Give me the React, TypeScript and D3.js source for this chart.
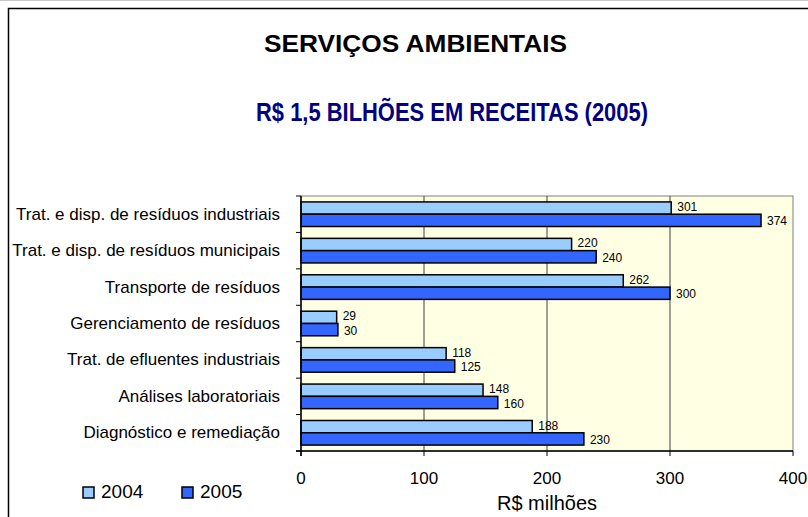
import React from "react";
import * as d3 from "d3";

const categories = [
  "Trat. e disp. de resíduos industriais",
  "Trat. e disp. de resíduos municipais",
  "Transporte de resíduos",
  "Gerenciamento de resíduos",
  "Trat. de efluentes industriais",
  "Análises laboratoriais",
  "Diagnóstico e remediação",
];
const values2004 = [301, 220, 262, 29, 118, 148, 188];
const values2005 = [374, 240, 300, 30, 125, 160, 230];
const seriesNames = ["2004", "2005"];
const seriesColors = ["#99CCFF", "#3366FF"];
const xTicks = [0, 100, 200, 300, 400];

const W = 808, H = 517;
const font = "Arial, 'Liberation Sans', sans-serif";

export default function App() {
  const left = 301, right = 793, top = 196, bottom = 451;

  const x = d3.scaleLinear().domain([0, 400]).range([left, right]);
  const y = d3
    .scaleBand<string>()
    .domain(categories)
    .range([top, bottom])
    .paddingInner(0.325)
    .paddingOuter(0.1625);
  const ySub = d3
    .scaleBand<string>()
    .domain(seriesNames)
    .range([0, y.bandwidth()]);

  const series = [values2004, values2005];
  const step = y.step();

  return (
    <svg
      width={W}
      height={H}
      style={{ position: "absolute", left: 0, top: 0 }}
      fontFamily={font}
    >
      <rect x={0} y={0} width={W} height={H} fill="#fff" />
      <line x1={0} x2={W} y1={0.5} y2={0.5} stroke="#c8c8c8" />
      <rect x={8.5} y={8.5} width={W + 10} height={H + 10} fill="none" stroke="#000" strokeWidth={1.5} />

      {/* titles */}
      <text x={264} y={52} fontSize={24} fontWeight="bold" fill="#000" textLength={303} lengthAdjust="spacingAndGlyphs">
        SERVIÇOS AMBIENTAIS
      </text>
      <text x={256} y={121} fontSize={25} fontWeight="bold" fill="#000080" textLength={392} lengthAdjust="spacingAndGlyphs">
        R$ 1,5 BILHÕES EM RECEITAS (2005)
      </text>

      {/* plot area */}
      <rect x={left} y={top} width={right - left} height={bottom - top} fill="#FFFFE3" stroke="#808080" strokeWidth={1} />
      {xTicks.slice(1, -1).map((t) => (
        <line key={t} x1={x(t)} x2={x(t)} y1={top} y2={bottom} stroke="#404040" strokeWidth={1} />
      ))}

      {/* bars */}
      {categories.map((c, i) =>
        series.map((vals, s) => {
          const by = (y(c) as number) + (ySub(seriesNames[s]) as number);
          const bh = ySub.bandwidth();
          return (
            <g key={c + s}>
              <rect
                x={x(0)}
                y={by}
                width={x(vals[i]) - x(0)}
                height={bh}
                fill={seriesColors[s]}
                stroke="#000"
                strokeWidth={1.5}
              />
              <text
                x={x(vals[i]) + 6}
                y={by + bh / 2 + (s === 0 ? -1 : 1)}
                dominantBaseline="central"
                fontSize={12}
                fill="#000"
              >
                {vals[i]}
              </text>
            </g>
          );
        })
      )}

      {/* axes */}
      <line x1={left} x2={left} y1={top} y2={bottom + 5} stroke="#000" strokeWidth={1.5} />
      <line x1={left - 5} x2={right} y1={bottom} y2={bottom} stroke="#000" strokeWidth={1.5} />
      {d3.range(categories.length + 1).map((k) => (
        <line key={k} x1={left - 5} x2={left} y1={top + k * step} y2={top + k * step} stroke="#000" />
      ))}
      {xTicks.map((t) => (
        <g key={t}>
          <line x1={x(t)} x2={x(t)} y1={bottom} y2={bottom + 5} stroke="#000" />
          <text x={x(t)} y={484} textAnchor="middle" fontSize={17} fill="#000">
            {t}
          </text>
        </g>
      ))}
      <text x={(left + right) / 2} y={510} textAnchor="middle" fontSize={20} fill="#000">
        R$ milhões
      </text>

      {categories.map((c) => (
        <text
          key={c}
          x={280}
          y={(y(c) as number) + y.bandwidth() / 2}
          textAnchor="end"
          dominantBaseline="central"
          fontSize={17}
          fill="#000"
        >
          {c}
        </text>
      ))}

      {/* legend */}
      {seriesNames.map((n, s) => (
        <g key={n} transform={`translate(${83 + s * 99},487)`}>
          <rect x={0} y={0} width={11} height={11} fill={seriesColors[s]} stroke="#000" strokeWidth={1.5} />
          <text x={18} y={11} fontSize={19} fill="#000">
            {n}
          </text>
        </g>
      ))}
    </svg>
  );
}
